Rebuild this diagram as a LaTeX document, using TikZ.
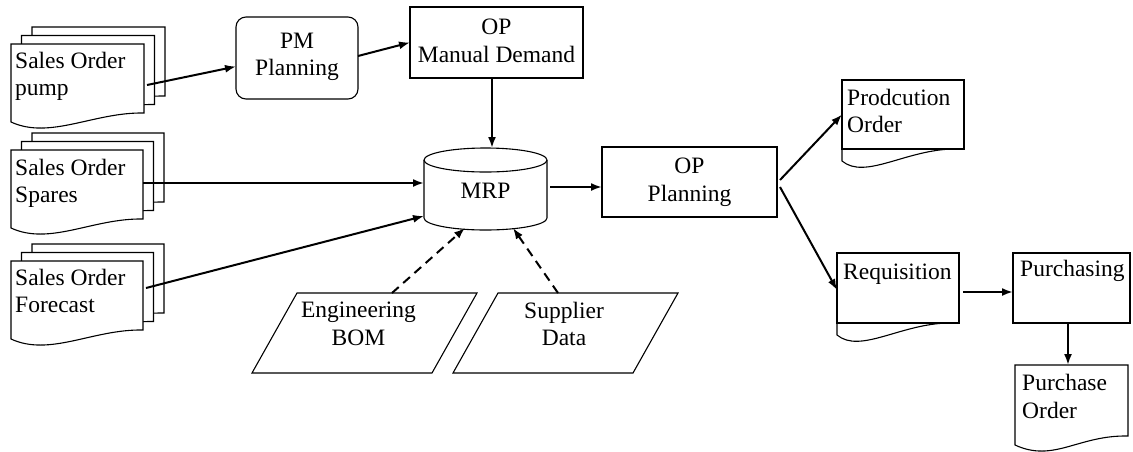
\documentclass[tikz,border=0pt]{standalone}
\usepackage{fontspec}
\setmainfont{Liberation Serif}
\usetikzlibrary{arrows.meta,calc}

\tikzset{
  geo/.style={draw=none, inner sep=0pt, outer sep=0pt, anchor=north west},
  outline/.style={draw=black, line width=1.1pt, fill=white},
  lbl/.style={inner sep=0pt, font=\fontsize{23.5}{27.5}\selectfont, align=center},
  doclbl/.style={lbl, align=left, anchor=north west},
  flow/.style={draw=black, line width=2pt, -{Latex[length=11pt,width=8pt]}},
  dflow/.style={flow, dash pattern=on 9pt off 6pt},
}

% document sheet with a wavy lower edge; #2,#3 shift the sheet (right, up)
\newcommand{\docout}[3]{%
  \draw[outline]
    ([xshift=#2,yshift=#3]#1.north west) -- ([xshift=#2,yshift=#3]#1.north east)
    -- ([xshift=#2,yshift=#3+9pt]#1.south east)
    .. controls ([xshift=#2-50pt,yshift=#3+10pt]#1.south east)
            and ([xshift=#2+39pt,yshift=#3-18pt]#1.south west)
    .. ([xshift=#2,yshift=#3]#1.south west) -- cycle;}
% stack of three sheets
\newcommand{\docstack}[1]{%
  \docout{#1}{21pt}{17pt}\docout{#1}{10.5pt}{8.5pt}\docout{#1}{0pt}{0pt}}
% box with a wavy tail hanging below it
\newcommand{\taildoc}[1]{%
  \draw[outline] (#1.north west) rectangle (#1.south east);
  \draw[outline, fill=none] (#1.south west) -- ([yshift=-12pt]#1.south west)
    .. controls ([xshift=23pt,yshift=-31pt]#1.south west)
            and ([xshift=-59pt,yshift=-1pt]#1.south east)
    .. ([xshift=-11pt]#1.south east);}

\begin{document}
\begin{tikzpicture}[x=1pt,y=-1pt]
\useasboundingbox (0,0) rectangle (1133,451);

% shape frames
\node[geo, minimum width=133pt, minimum height=78pt] (pump)   at (11,44)   {};
\node[geo, minimum width=132pt, minimum height=78pt] (spares) at (11,150)  {};
\node[geo, minimum width=132pt, minimum height=78pt] (fc)     at (11,261)  {};
\node[geo, minimum width=122pt, minimum height=82pt] (pm)     at (236,17)  {};
\node[geo, minimum width=173pt, minimum height=71pt] (opmd)   at (410,7)   {};
\node[geo, minimum width=123pt, minimum height=82pt] (mrp)    at (424,148) {};
\node[geo, minimum width=175pt, minimum height=70pt] (opp)    at (602,147) {};
\node[geo, minimum width=225pt, minimum height=80pt] (eng)    at (252,293) {};
\node[geo, minimum width=225pt, minimum height=80pt] (sup)    at (453,293) {};
\node[geo, minimum width=122pt, minimum height=69pt] (prod)   at (842,80)  {};
\node[geo, minimum width=122pt, minimum height=70pt] (req)    at (837,253) {};
\node[geo, minimum width=117pt, minimum height=70pt] (pur)    at (1013,253){};
\node[geo, minimum width=113pt, minimum height=80pt] (po)     at (1015,365){};

% outlines
\docstack{pump}
\docstack{spares}
\docstack{fc}
\draw[outline, rounded corners=10pt] (pm.north west) rectangle (pm.south east);
\draw[outline] (opmd.north west) rectangle (opmd.south east);
\draw[outline] (opp.north west) rectangle (opp.south east);
\draw[outline] (pur.north west) rectangle (pur.south east);
% MRP store
\draw[outline] ([yshift=-12pt]mrp.north west) -- ([yshift=12pt]mrp.south west)
  arc[start angle=180, end angle=360, x radius=61.5pt, y radius=12pt]
  -- ([yshift=-12pt]mrp.north east)
  arc[start angle=0, end angle=180, x radius=61.5pt, y radius=12pt] -- cycle;
\draw[outline, fill=none] ([yshift=-12pt]mrp.north west)
  arc[start angle=180, end angle=360, x radius=61.5pt, y radius=12pt];
% data inputs
\foreach \n in {eng,sup}{
  \draw[outline] ([xshift=45pt]\n.north west) -- (\n.north east)
    -- ([xshift=-45pt]\n.south east) -- (\n.south west) -- cycle;}
\taildoc{prod}
\taildoc{req}
\docout{po}{0pt}{0pt}

% labels
\node[doclbl] (pumpT)   at ([xshift=4pt,yshift=-4.75pt]pump.north west)   {\strut Sales Order\\pump};
\node[doclbl] (sparesT) at ([xshift=4pt,yshift=-5.75pt]spares.north west) {\strut Sales Order\\Spares};
\node[doclbl] (fcT)     at ([xshift=4pt,yshift=-4.75pt]fc.north west)     {\strut Sales Order\\Forecast};
\node[lbl] (pmT)   at ([yshift=1pt]pm.center)     {PM\\Planning};
\node[lbl] (opmdT) at ([yshift=1.7pt]opmd.center) {OP\\Manual Demand};
\node[lbl] (mrpT)  at ([yshift=-1.5pt]mrp.center) {MRP};
\node[lbl] (oppT)  at (opp.center)                {OP\\Planning};
\node[lbl] (engT)  at ([xshift=-6pt,yshift=9.25pt]eng.center)   {Engineering\\BOM};
\node[lbl] (supT)  at ([xshift=-1.5pt,yshift=9.25pt]sup.center) {Supplier\\Data};
\node[doclbl] (prodT) at ([xshift=5pt,yshift=-5.75pt]prod.north west) {\strut Prodcution\\Order};
\node[doclbl] (reqT)  at ([xshift=6pt,yshift=-7pt]req.north west)     {\strut Requisition};
\node[doclbl] (purT)  at ([xshift=7pt,yshift=-4.5pt]pur.north west)   {\strut Purchasing};
\node[doclbl] (poT)   at ([xshift=7pt,yshift=-6.5pt]po.north west)    {\strut Purchase\\Order};

% connectors
\draw[flow] ([xshift=3pt,yshift=-2pt]pump.east) -- ([yshift=-8.5pt]pm.west);
\draw[flow] ([yshift=2pt]pm.east) -- (opmd.west);
\coordinate (c1) at ([xshift=-4.5pt]opmd.south);
\draw[flow] (c1) -- (c1 |- mrp.north);
\coordinate (c2) at ([yshift=6pt]spares.east);
\draw[flow] (c2) -- (c2 -| mrp.west);
\draw[flow] ([xshift=3pt,yshift=12pt]fc.east) -- ([yshift=-27pt]mrp.west);
\coordinate (c3) at ([xshift=3pt,yshift=2pt]mrp.east);
\draw[flow] (c3) -- (c3 -| opp.west);
\draw[dflow] ([xshift=27.5pt]eng.north) -- ([xshift=-20.5pt,yshift=2pt]mrp.south);
\draw[dflow] ([xshift=-7.5pt]sup.north) -- ([xshift=27.5pt,yshift=2pt]mrp.south);
\draw[flow] ([xshift=3pt,yshift=2pt]opp.east) -- (prod.west);
\draw[flow] ([xshift=3pt,yshift=-5pt]opp.east) -- ([yshift=-2pt]req.west);
\coordinate (c4) at ([xshift=4pt,yshift=-4pt]req.east);
\draw[flow] (c4) -- (c4 -| pur.west);
\coordinate (c5) at ([xshift=-3.5pt]pur.south);
\draw[flow] (c5) -- (c5 |- po.north);
\end{tikzpicture}
\end{document}
